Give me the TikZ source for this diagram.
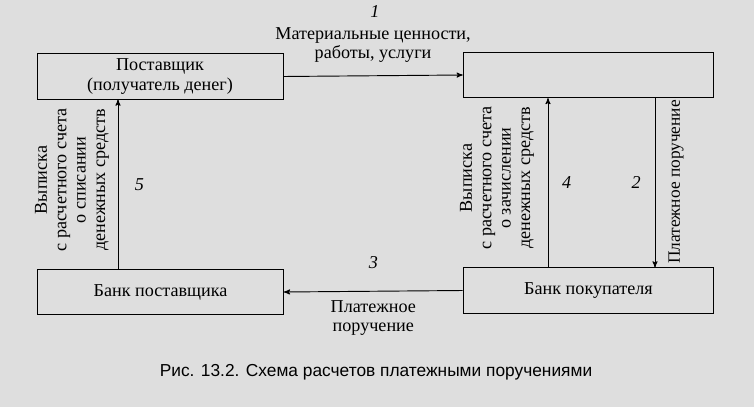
\documentclass[tikz,border=0pt]{standalone}
\usepackage{fontspec}
\setmainfont{Liberation Serif}
\setsansfont{Liberation Sans}
\usetikzlibrary{arrows}
\usetikzlibrary{positioning}

\begin{document}
\begin{tikzpicture}[x=0.75pt,y=-0.75pt,->,>=stealth',line width=0.7pt,
			font=\fontsize{13.6}{14.6}\selectfont]
			\tikzstyle{box}=[draw,-,minimum height=34pt,align=center,inner sep=0pt]
			\tikzstyle{num}=[font=\itshape\fontsize{13.6}{14.6}\selectfont]
			\tikzstyle{vlabel}=[rotate=90,align=center,inner sep=0pt]
			
			\fill[-,black!13] (0,0) rectangle (754,407);
			\useasboundingbox (0,0) rectangle (754,407);
			
			\node[box,minimum width=184.5pt] (sup)  at (160,76.5)  {Поставщик\\(получатель денег)};
			\node[box,minimum width=188pt]   (buy)  at (588.5,75)  {};
			\node[box,minimum width=184.5pt] (bsup) at (160.5,292) {Банк поставщика};
			\node[box,minimum width=188pt]   (bbuy) at (588.5,290.5) {Банк покупателя};
			
			\coordinate (a5) at (118,0);
			\coordinate (a4) at (548,0);
			\coordinate (a2) at (655,0);
			
			\draw (sup.east) -- node[above=6pt,align=center] (l1) {Материальные ценности,\\работы, услуги} (buy.west);
			\node[num] (n1) at (375,12) {1};
			\draw (a5 |- bsup.north) -- node[right=9pt,num] (n5) {5} (a5 |- sup.south);
			\draw (a4 |- bbuy.north) -- node[right=7pt,num] (n4) {4} (a4 |- buy.south);
			\draw (a2 |- buy.south) -- node[left=7pt,num] (n2) {2} (a2 |- bbuy.north);
			\draw (bbuy.west) -- node[below=3pt,align=center] (l3) {Платежное\\поручение}
				node[above=13pt,num] (n3) {3} (bsup.east);
			
			\node[vlabel] (l5) at (72,180) {Выписка\\с расчетного счета\\о списании\\денежных средств};
			\node[vlabel] (l4) at (497,178) {Выписка\\с расчетного счета\\о зачислении\\денежных средств};
			\node[vlabel,font=\fontsize{13}{14.6}\selectfont] (l2) at (676,182) {Платежное поручение};
			
			\node[font=\sffamily\fontsize{13}{15}\selectfont] (cap) at (376,372)
				{Рис. 13.2. Схема расчетов платежными поручениями};
\end{tikzpicture}
\end{document}
